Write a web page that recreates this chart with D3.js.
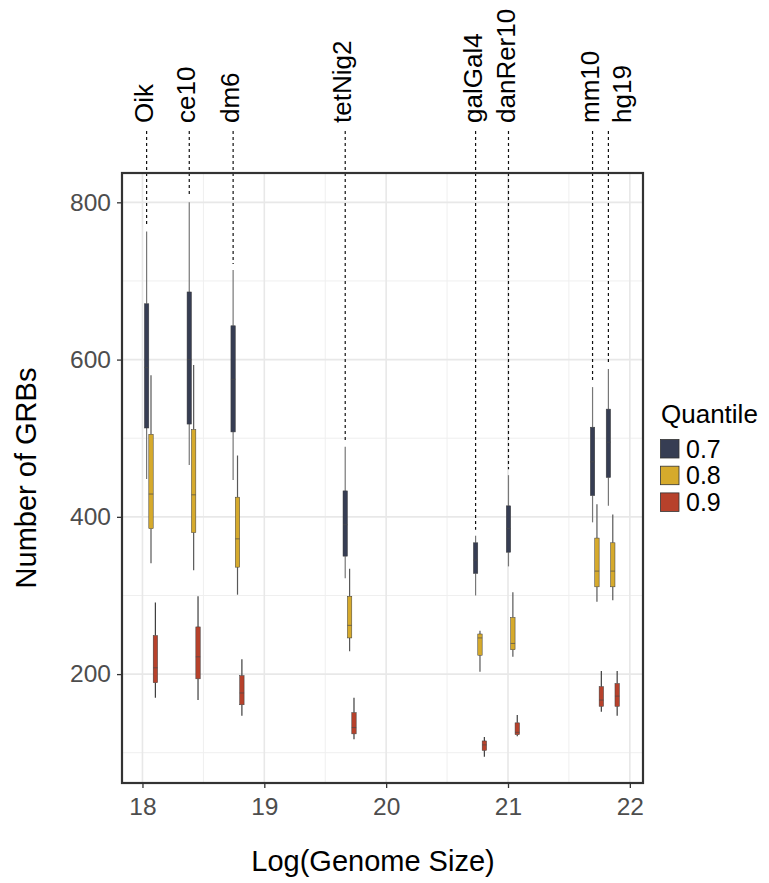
<!DOCTYPE html>
<html>
<head>
<meta charset="utf-8">
<script src="https://cdn.jsdelivr.net/npm/d3@7"></script>
<style>
  html, body { margin: 0; padding: 0; background: #fff; }
  svg { display: block; font-family: "Liberation Sans", Arial, Helvetica, sans-serif; }
</style>
</head>
<body>
<svg id="chart" width="769" height="883"></svg>
<script>
// Genome assemblies and their log genome size
const genomes = ["Oik", "ce10", "dm6", "tetNig2", "galGal4", "danRer10", "mm10", "hg19"];
const logSize = [18.07, 18.42, 18.78, 19.70, 20.77, 21.04, 21.73, 21.86];

// Quantile groups
const quantiles = ["0.7", "0.8", "0.9"];
const quantileColors = ["#363d53", "#d6aa2c", "#b7412b"];
const whiskerColors = ["#777777", "#585858", "#3d3d3d"];

// Box statistics per genome: [lower whisker, Q1, median, Q3, upper whisker]
const grbQ07 = [
  [448, 513, 590, 671, 763],
  [466, 518, 600, 686, 800],
  [447, 508, 575, 643, 714],
  [322, 350, 390, 433, 489],
  [300, 328, 345, 367, 376],
  [337, 355, 385, 414, 453],
  [393, 427, 470, 514, 565],
  [414, 450, 495, 537, 588]
];
const grbQ08 = [
  [341, 385, 429, 505, 580],
  [332, 380, 428, 511, 593],
  [301, 336, 372, 425, 478],
  [229, 246, 262, 299, 334],
  [203, 224, 246, 251, 255],
  [222, 231, 239, 272, 304],
  [292, 311, 331, 373, 416],
  [294, 311, 331, 367, 403]
];
const grbQ09 = [
  [170, 189, 208, 249, 291],
  [167, 194, 222, 260, 299],
  [147, 161, 176, 198, 219],
  [117, 124, 132, 151, 170],
  [95, 103, 110, 115, 120],
  [121, 123, 126, 138, 148],
  [152, 159, 167, 184, 204],
  [147, 159, 172, 188, 204]
];

const xTicks = [18, 19, 20, 21, 22];
const yTicks = [200, 400, 600, 800];
const yMinor = [100, 300, 500, 700];
const xMinor = [18.5, 19.5, 20.5, 21.5];

const seriesStats = [grbQ07, grbQ08, grbQ09];

const svg = d3.select("#chart");
const panel = { left: 122, right: 643, top: 173, bottom: 783 };

const x = d3.scaleLinear().domain([17.832, 22.108]).range([panel.left, panel.right]);
const y = d3.scaleLinear().domain([61.5, 837.3]).range([panel.bottom, panel.top]);

const dodge = 0.036;          // horizontal offset between quantile boxes (data units)
const boxW = x(18 + dodge) - x(18);

// Grid lines
const grid = svg.append("g");
grid.selectAll(".ymin").data(yMinor).join("line")
  .attr("x1", panel.left).attr("x2", panel.right)
  .attr("y1", d => y(d)).attr("y2", d => y(d))
  .attr("stroke", "#efefef").attr("stroke-width", 1);
grid.selectAll(".xmin").data(xMinor).join("line")
  .attr("y1", panel.top).attr("y2", panel.bottom)
  .attr("x1", d => x(d)).attr("x2", d => x(d))
  .attr("stroke", "#efefef").attr("stroke-width", 1);
grid.selectAll(".ymaj").data(yTicks).join("line")
  .attr("x1", panel.left).attr("x2", panel.right)
  .attr("y1", d => y(d)).attr("y2", d => y(d))
  .attr("stroke", "#e8e8e8").attr("stroke-width", 1.6);
grid.selectAll(".xmaj").data(xTicks).join("line")
  .attr("y1", panel.top).attr("y2", panel.bottom)
  .attr("x1", d => x(d)).attr("x2", d => x(d))
  .attr("stroke", "#e8e8e8").attr("stroke-width", 1.6);

// Box plots, dodged by quantile
const boxes = svg.append("g");
seriesStats.forEach((stats, qi) => {
  const g = boxes.append("g");
  stats.forEach((s, gi) => {
    const cx = x(logSize[gi] + (qi - 1) * dodge);
    const [lo, q1, med, q3, hi] = s;
    g.append("line")
      .attr("x1", cx).attr("x2", cx)
      .attr("y1", y(hi)).attr("y2", y(q3))
      .attr("stroke", whiskerColors[qi]).attr("stroke-width", 1.2);
    g.append("line")
      .attr("x1", cx).attr("x2", cx)
      .attr("y1", y(q1)).attr("y2", y(lo))
      .attr("stroke", whiskerColors[qi]).attr("stroke-width", 1.2);
    g.append("rect")
      .attr("x", cx - boxW / 2).attr("width", boxW)
      .attr("y", y(q3)).attr("height", y(q1) - y(q3))
      .attr("fill", quantileColors[qi])
      .attr("stroke", "#3a3a3a").attr("stroke-width", 0.5);
    g.append("line")
      .attr("x1", cx - boxW / 2).attr("x2", cx + boxW / 2)
      .attr("y1", y(med)).attr("y2", y(med))
      .attr("stroke", "#4a4a4a").attr("stroke-width", 0.7);
  });
});

// Genome labels above the panel with dashed leader lines
const labelFont = 26;
const labelGap = 32;
const lineX = logSize.map(v => x(v - dodge));
const labelCenters = [];
lineX.forEach((lx, i) => {
  let c = lx - 3;
  if (i > 0 && c < labelCenters[i - 1] + labelGap) c = labelCenters[i - 1] + labelGap;
  labelCenters.push(c);
});

const leaders = svg.append("g");
genomes.forEach((name, i) => {
  leaders.append("line")
    .attr("x1", lineX[i]).attr("x2", lineX[i])
    .attr("y1", 131).attr("y2", y(grbQ07[i][4]) - 6)
    .attr("stroke", "#111").attr("stroke-width", 1.2)
    .attr("stroke-dasharray", "3,3");
  leaders.append("text")
    .attr("transform", `translate(${labelCenters[i] + 0.35 * labelFont},123) rotate(-90)`)
    .attr("font-size", labelFont)
    .attr("fill", "#000")
    .text(name);
});

// Panel border
svg.append("rect")
  .attr("x", panel.left).attr("y", panel.top)
  .attr("width", panel.right - panel.left).attr("height", panel.bottom - panel.top)
  .attr("fill", "none").attr("stroke", "#333").attr("stroke-width", 2.2);

// Axes
const xAxis = svg.append("g").attr("transform", `translate(0,${panel.bottom})`)
  .call(d3.axisBottom(x).tickValues(xTicks).tickSize(5).tickPadding(10).tickFormat(d3.format("d")));
const yAxis = svg.append("g").attr("transform", `translate(${panel.left},0)`)
  .call(d3.axisLeft(y).tickValues(yTicks).tickSize(5).tickPadding(6).tickFormat(d3.format("d")));
[xAxis, yAxis].forEach(a => {
  a.select(".domain").remove();
  a.selectAll(".tick line").attr("stroke", "#333").attr("stroke-width", 1.3);
  a.selectAll(".tick text").attr("fill", "#4d4d4d").attr("font-size", 24.5)
    .attr("font-family", "'Liberation Sans', Arial, Helvetica, sans-serif");
});

// Axis titles
svg.append("text")
  .attr("x", 373).attr("y", 871)
  .attr("text-anchor", "middle").attr("font-size", 29).attr("fill", "#000")
  .text("Log(Genome Size)");
svg.append("text")
  .attr("transform", `translate(36,${(panel.top + panel.bottom) / 2}) rotate(-90)`)
  .attr("text-anchor", "middle").attr("font-size", 29).attr("fill", "#000")
  .text("Number of GRBs");

// Legend
const legend = svg.append("g").attr("transform", "translate(660,0)");
legend.append("text")
  .attr("x", 1).attr("y", 423)
  .attr("font-size", 26).attr("fill", "#000")
  .text("Quantile");
quantiles.forEach((q, i) => {
  legend.append("rect")
    .attr("x", 0.5).attr("y", 439.5 + i * 26.7)
    .attr("width", 18.5).attr("height", 18.5)
    .attr("fill", quantileColors[i])
    .attr("stroke", "#333").attr("stroke-width", 0.8);
  legend.append("text")
    .attr("x", 26).attr("y", 457.7 + i * 26.7)
    .attr("font-size", 25).attr("fill", "#000")
    .text(q);
});
</script>
</body>
</html>
